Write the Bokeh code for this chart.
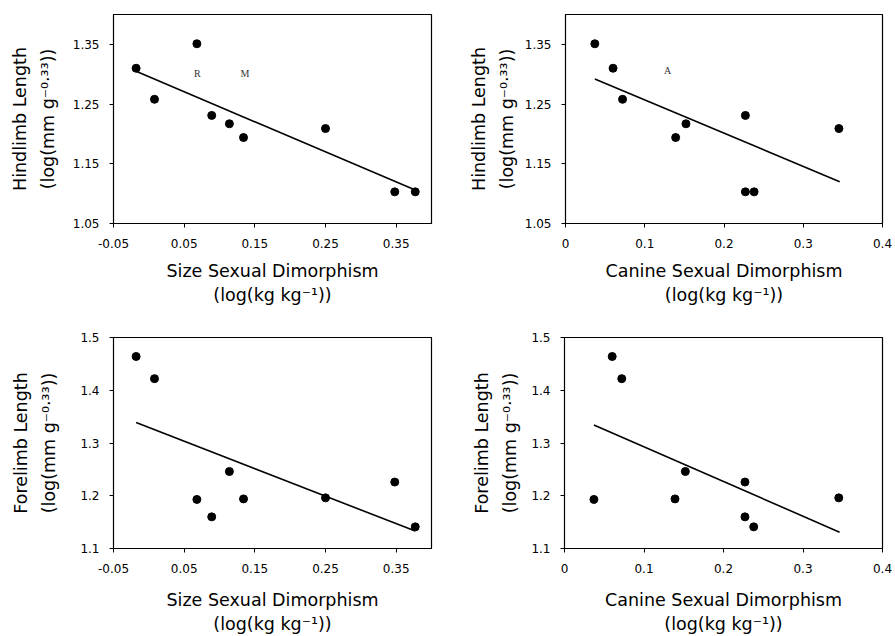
from bokeh.plotting import figure
from bokeh.layouts import column, row
from bokeh.models import Range1d, FixedTicker, ColumnDataSource
from bokeh.core.properties import value
from bokeh.embed import file_html
from bokeh.resources import INLINE

# ---- data (one entry per species) ----
size_dim = [-0.018, 0.008, 0.068, 0.089, 0.114, 0.134, 0.250, 0.348, 0.377]
canine_dim = [0.060, 0.072, 0.037, 0.227, 0.152, 0.139, 0.345, 0.227, 0.238]
hindlimb = [1.310, 1.258, 1.351, 1.231, 1.217, 1.194, 1.209, 1.103, 1.103]
forelimb = [1.464, 1.422, 1.193, 1.160, 1.246, 1.194, 1.196, 1.226, 1.141]

# fitted regression line end points
fit_size_x = [-0.018, 0.377]
fit_hind_size_y = [1.305, 1.106]
fit_fore_size_y = [1.339, 1.133]
fit_canine_x = [0.037, 0.346]
fit_hind_canine_y = [1.292, 1.120]
fit_fore_canine_y = [1.334, 1.131]

# letter annotations
size_hind_letters = ["R", "M"]
size_hind_letter_x = [0.0686, 0.136]
size_hind_letter_y = [1.301, 1.301]
canine_hind_letters = ["A"]
canine_hind_letter_x = [0.129]
canine_hind_letter_y = [1.306]

# ticks
size_ticks = [-0.05, 0.05, 0.15, 0.25, 0.35]
size_tick_labels = ["-0.05", "0.05", "0.15", "0.25", "0.35"]
canine_ticks = [0, 0.1, 0.2, 0.3, 0.4]
canine_tick_labels = ["0", "0.1", "0.2", "0.3", "0.4"]
hind_ticks = [1.05, 1.15, 1.25, 1.35]
hind_tick_labels = ["1.05", "1.15", "1.25", "1.35"]
fore_ticks = [1.1, 1.2, 1.3, 1.4, 1.5]
fore_tick_labels = ["1.1", "1.2", "1.3", "1.4", "1.5"]

size_label = "Size Sexual Dimorphism\n(log(kg kg\u207b\u00b9))"
canine_label = "Canine Sexual Dimorphism\n(log(kg kg\u207b\u00b9))"
hind_label = "Hindlimb Length\n(log(mm g\u207b\u2070\u00b7\u00b3\u00b3))"
fore_label = "Forelimb Length\n(log(mm g\u207b\u2070\u00b7\u00b3\u00b3))"

FONT = "DejaVu Sans"


def make(xr, yr, xt, xtl, yt, ytl, xlabel, ylabel, xs, ys, fx, fy,
         w, h, bl, br, bt, bb, ystand, xstand, letters=None):
    p = figure(width=w, height=h, x_range=Range1d(*xr), y_range=Range1d(*yr),
               output_backend="svg", toolbar_location=None,
               min_border_left=bl, min_border_right=br,
               min_border_top=bt, min_border_bottom=bb)
    p.xgrid.visible = False
    p.ygrid.visible = False
    p.outline_line_color = "black"
    p.outline_line_width = 1.2
    p.outline_line_alpha = 1
    p.background_fill_color = "white"
    p.border_fill_color = "white"

    for ax, ticks, labels, lab, stand, lh, ls in (
            (p.xaxis[0], xt, xtl, xlabel, xstand, 1.2, 11),
            (p.yaxis[0], yt, ytl, ylabel, ystand, 1.4, 10)):
        ax.ticker = FixedTicker(ticks=ticks)
        ax.major_label_overrides = {t: l for t, l in zip(ticks, labels)}
        ax.minor_tick_line_color = None
        ax.major_tick_in = 0
        ax.major_tick_out = 4
        ax.major_tick_line_color = "black"
        ax.axis_line_color = "black"
        ax.major_label_text_font = FONT
        ax.major_label_text_font_size = "12px"
        ax.major_label_text_color = "black"
        ax.major_label_standoff = ls
        ax.axis_label = lab
        ax.axis_label_text_font = FONT
        ax.axis_label_text_font_size = "17.5px"
        ax.axis_label_text_font_style = "normal"
        ax.axis_label_text_color = "black"
        ax.axis_label_text_line_height = lh
        ax.axis_label_standoff = stand

    src = ColumnDataSource(dict(x=xs, y=ys))
    p.line(fx, fy, line_color="black", line_width=1.6)
    p.scatter("x", "y", source=src, size=8, fill_color="black", line_color="black")
    if letters is not None:
        txt, lx, ly = letters
        p.text(lx, ly, text=txt, text_font=value("Liberation Serif"),
               text_font_size="10px", text_color="#333333",
               text_align="center", text_baseline="middle")
    return p


p1 = make((-0.05, 0.40), (1.05, 1.40), size_ticks, size_tick_labels,
          hind_ticks, hind_tick_labels, size_label, hind_label,
          size_dim, hindlimb, fit_size_x, fit_hind_size_y,
          445, 318, 113, 14, 13, 95, 12, 10,
          (size_hind_letters, size_hind_letter_x, size_hind_letter_y))
p2 = make((0, 0.4), (1.05, 1.40), canine_ticks, canine_tick_labels,
          hind_ticks, hind_tick_labels, canine_label, hind_label,
          canine_dim, hindlimb, fit_canine_x, fit_hind_canine_y,
          450, 318, 120, 13, 14, 94, 5, 10,
          (canine_hind_letters, canine_hind_letter_x, canine_hind_letter_y))
p3 = make((-0.05, 0.40), (1.1, 1.5), size_ticks, size_tick_labels,
          fore_ticks, fore_tick_labels, size_label, fore_label,
          size_dim, forelimb, fit_size_x, fit_fore_size_y,
          445, 318, 113, 14, 19, 87, 18, 14)
p4 = make((0, 0.4), (1.1, 1.5), canine_ticks, canine_tick_labels,
          fore_ticks, fore_tick_labels, canine_label, fore_label,
          canine_dim, forelimb, fit_canine_x, fit_fore_canine_y,
          450, 318, 119, 13, 19, 87, 8, 14)

layout = column(row(p1, p2), row(p3, p4))
open("out.html", "w").write(file_html(layout, INLINE))
